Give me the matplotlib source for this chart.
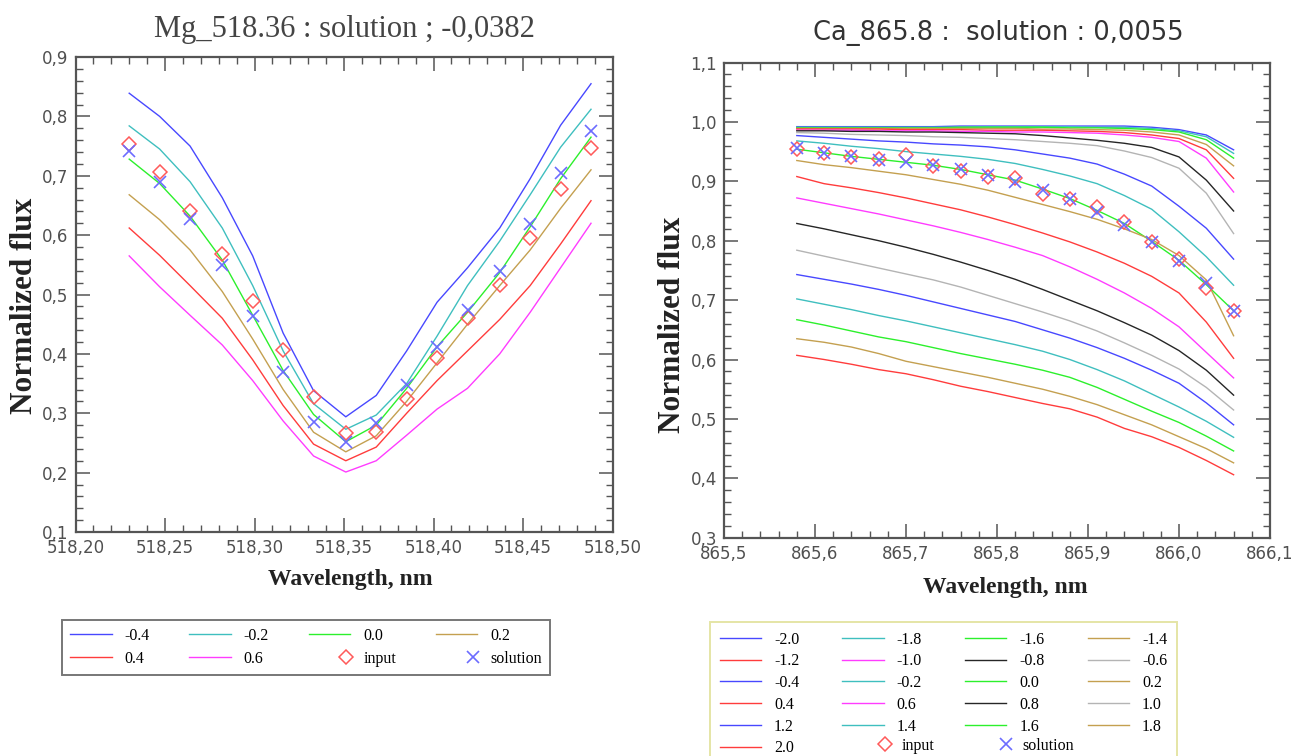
import matplotlib
matplotlib.use('Agg')
from matplotlib import pyplot as plt
from matplotlib.ticker import MultipleLocator, FuncFormatter
from matplotlib.legend_handler import HandlerLine2DCompound

# ---- left panel : Mg 518.36 ----
mg_wl = [518.230, 518.247, 518.264, 518.282, 518.299, 518.316, 518.333, 518.351,
         518.368, 518.385, 518.402, 518.419, 518.437, 518.454, 518.471, 518.488]
mg_levels = ['-0.4', '-0.2', '0.0', '0.2', '0.4', '0.6']
mg_m04 = [0.839, 0.800, 0.750, 0.663, 0.565, 0.435, 0.338, 0.294, 0.330, 0.405, 0.487, 0.545, 0.612, 0.695, 0.785, 0.855]
mg_m02 = [0.784, 0.745, 0.690, 0.612, 0.515, 0.405, 0.316, 0.273, 0.297, 0.350, 0.430, 0.515, 0.590, 0.668, 0.748, 0.812]
mg_p00 = [0.728, 0.687, 0.632, 0.558, 0.465, 0.372, 0.298, 0.252, 0.280, 0.342, 0.412, 0.470, 0.537, 0.614, 0.695, 0.765]
mg_p02 = [0.668, 0.626, 0.575, 0.505, 0.425, 0.340, 0.268, 0.235, 0.262, 0.320, 0.385, 0.450, 0.515, 0.575, 0.645, 0.710]
mg_p04 = [0.612, 0.566, 0.515, 0.460, 0.390, 0.313, 0.248, 0.220, 0.243, 0.300, 0.355, 0.405, 0.458, 0.515, 0.585, 0.658]
mg_p06 = [0.565, 0.513, 0.465, 0.415, 0.355, 0.287, 0.228, 0.201, 0.220, 0.263, 0.307, 0.342, 0.400, 0.470, 0.545, 0.620]
mg_input = [0.754, 0.706, 0.641, 0.568, 0.489, 0.406, 0.328, 0.266, 0.268, 0.324, 0.393, 0.460, 0.516, 0.595, 0.677, 0.746]
mg_solution = [0.742, 0.690, 0.627, 0.550, 0.464, 0.370, 0.286, 0.252, 0.283, 0.348, 0.412, 0.474, 0.539, 0.618, 0.705, 0.776]

# ---- right panel : Ca 865.8 ----
ca_wl = [865.58, 865.61, 865.64, 865.67, 865.70, 865.73, 865.76, 865.79, 865.82,
         865.85, 865.88, 865.91, 865.94, 865.97, 866.00, 866.03, 866.06]
ca_levels = ['-2.0', '-1.8', '-1.6', '-1.4', '-1.2', '-1.0', '-0.8', '-0.6', '-0.4', '-0.2', '0.0',
             '0.2', '0.4', '0.6', '0.8', '1.0', '1.2', '1.4', '1.6', '1.8', '2.0']
ca_m20 = [0.992, 0.992, 0.992, 0.992, 0.992, 0.992, 0.993, 0.993, 0.993, 0.993, 0.993, 0.993, 0.993, 0.991, 0.987, 0.978, 0.953]
ca_m18 = [0.991, 0.991, 0.991, 0.991, 0.991, 0.991, 0.991, 0.992, 0.992, 0.992, 0.992, 0.991, 0.991, 0.989, 0.985, 0.975, 0.947]
ca_m16 = [0.990, 0.990, 0.990, 0.990, 0.990, 0.990, 0.991, 0.991, 0.991, 0.991, 0.990, 0.990, 0.989, 0.987, 0.983, 0.970, 0.939]
ca_m14 = [0.989, 0.989, 0.989, 0.989, 0.989, 0.989, 0.989, 0.989, 0.989, 0.988, 0.988, 0.987, 0.986, 0.983, 0.978, 0.962, 0.926]
ca_m12 = [0.988, 0.988, 0.988, 0.988, 0.987, 0.987, 0.987, 0.986, 0.986, 0.986, 0.985, 0.984, 0.982, 0.978, 0.972, 0.953, 0.905]
ca_m10 = [0.986, 0.986, 0.986, 0.985, 0.985, 0.985, 0.984, 0.984, 0.983, 0.983, 0.982, 0.981, 0.978, 0.974, 0.967, 0.939, 0.882]
ca_m08 = [0.985, 0.985, 0.984, 0.984, 0.983, 0.983, 0.982, 0.981, 0.980, 0.977, 0.973, 0.969, 0.964, 0.957, 0.941, 0.902, 0.850]
ca_m06 = [0.982, 0.981, 0.979, 0.978, 0.977, 0.975, 0.974, 0.972, 0.970, 0.967, 0.964, 0.960, 0.951, 0.940, 0.922, 0.880, 0.812]
ca_m04 = [0.977, 0.974, 0.971, 0.968, 0.966, 0.963, 0.961, 0.958, 0.953, 0.946, 0.939, 0.929, 0.912, 0.892, 0.858, 0.821, 0.769]
ca_m02 = [0.968, 0.964, 0.959, 0.955, 0.950, 0.946, 0.942, 0.937, 0.930, 0.920, 0.909, 0.896, 0.876, 0.853, 0.815, 0.773, 0.725]
ca_p00 = [0.954, 0.948, 0.942, 0.937, 0.932, 0.927, 0.920, 0.911, 0.902, 0.887, 0.871, 0.851, 0.829, 0.799, 0.767, 0.726, 0.682]
ca_p02 = [0.935, 0.928, 0.923, 0.917, 0.911, 0.903, 0.895, 0.885, 0.873, 0.861, 0.849, 0.836, 0.820, 0.802, 0.775, 0.734, 0.640]
ca_p04 = [0.908, 0.896, 0.889, 0.881, 0.872, 0.862, 0.852, 0.840, 0.827, 0.813, 0.798, 0.781, 0.762, 0.740, 0.712, 0.663, 0.602]
ca_p06 = [0.872, 0.863, 0.854, 0.845, 0.835, 0.825, 0.814, 0.802, 0.789, 0.775, 0.756, 0.735, 0.712, 0.686, 0.655, 0.612, 0.569]
ca_p08 = [0.829, 0.820, 0.810, 0.800, 0.789, 0.777, 0.764, 0.750, 0.735, 0.718, 0.700, 0.682, 0.662, 0.641, 0.615, 0.582, 0.540]
ca_p10 = [0.784, 0.774, 0.764, 0.754, 0.744, 0.734, 0.722, 0.708, 0.694, 0.680, 0.665, 0.648, 0.628, 0.607, 0.584, 0.553, 0.515]
ca_p12 = [0.743, 0.735, 0.727, 0.718, 0.708, 0.697, 0.686, 0.675, 0.664, 0.650, 0.636, 0.620, 0.602, 0.582, 0.560, 0.527, 0.490]
ca_p14 = [0.702, 0.693, 0.684, 0.674, 0.665, 0.655, 0.645, 0.635, 0.625, 0.614, 0.600, 0.583, 0.564, 0.542, 0.520, 0.496, 0.469]
ca_p16 = [0.667, 0.658, 0.648, 0.638, 0.630, 0.620, 0.610, 0.601, 0.592, 0.582, 0.570, 0.553, 0.533, 0.513, 0.494, 0.471, 0.446]
ca_p18 = [0.635, 0.629, 0.621, 0.610, 0.597, 0.588, 0.579, 0.570, 0.560, 0.550, 0.538, 0.524, 0.507, 0.490, 0.470, 0.450, 0.426]
ca_p20 = [0.607, 0.600, 0.592, 0.583, 0.576, 0.566, 0.555, 0.546, 0.536, 0.526, 0.517, 0.503, 0.484, 0.470, 0.452, 0.430, 0.406]
ca_input = [0.954, 0.948, 0.941, 0.938, 0.944, 0.925, 0.917, 0.907, 0.905, 0.878, 0.871, 0.857, 0.832, 0.798, 0.769, 0.720, 0.682]
ca_solution = [0.956, 0.948, 0.942, 0.936, 0.932, 0.927, 0.920, 0.911, 0.899, 0.885, 0.870, 0.849, 0.826, 0.798, 0.765, 0.728, 0.682]

# colour cycle used by the plotting program (8 colours, repeated)
CYCLE = ['#4848ff', '#3fbfbf', '#2cf02c', '#c4a050', '#ff3c3c', '#ff3cff', '#262626', '#b4b4b4']
AXC = '#555555'
W, H = 1292, 756


def col_major(items, ncol):
    # matplotlib fills legend columns first, the reference reads row by row
    nrows, nlarge = divmod(len(items), ncol)
    out = []
    for c in range(ncol):
        rows = nrows + 1 if c < nlarge else nrows
        for r in range(rows):
            out.append(items[r * ncol + c])
    return out


class RightMarker(HandlerLine2DCompound):
    # legend marker drawn near the right end of the handle, as in the original
    def get_xdata(self, legend, xdescent, ydescent, width, height, fontsize):
        xd = [-xdescent, -xdescent + width]
        return xd, [-xdescent + width - 0.25 * fontsize]


def style_axes(ax, xmaj, xmin, ymaj, ymin, xfmt, yfmt):
    ax.xaxis.set_major_locator(MultipleLocator(xmaj))
    ax.xaxis.set_minor_locator(MultipleLocator(xmin))
    ax.yaxis.set_major_locator(MultipleLocator(ymaj))
    ax.yaxis.set_minor_locator(MultipleLocator(ymin))
    ax.xaxis.set_major_formatter(FuncFormatter(lambda v, p: xfmt.format(v).replace('.', ',')))
    ax.yaxis.set_major_formatter(FuncFormatter(lambda v, p: yfmt.format(v).replace('.', ',')))
    ax.tick_params(which='both', direction='in', top=True, right=True, color=AXC,
                   labelcolor='#505050', labelsize=12)
    ax.tick_params(which='major', length=10, width=1.1, pad=5)
    ax.tick_params(which='minor', length=5, width=1.0)
    for s in ax.spines.values():
        s.set_color(AXC)
        s.set_linewidth(1.6)


fig = plt.figure(figsize=(W / 100, H / 100), dpi=100)
MK_IN = dict(ls='none', marker='D', ms=7.5, mfc='none', mec='#ff5a5a', mew=1.1)
MK_SOL = dict(ls='none', marker='x', ms=9, mec='#6c6cff', mew=1.2)

# ---------- left ----------
ax1 = fig.add_axes([75.5 / W, 1 - 532 / H, 537 / W, 475 / H])
mg_curves = [mg_m04, mg_m02, mg_p00, mg_p02, mg_p04, mg_p06]
h1 = []
for k, (lab, ys) in enumerate(zip(mg_levels, mg_curves)):
    ln, = ax1.plot(mg_wl, ys, color=CYCLE[k % 8], lw=1.0, label=lab)
    h1.append(ln)
mi, = ax1.plot(mg_wl, mg_input, label='input', **MK_IN)
ms_, = ax1.plot(mg_wl, mg_solution, label='solution', **MK_SOL)
h1 += [mi, ms_]
ax1.set_xlim(518.20, 518.50)
ax1.set_ylim(0.1, 0.9)
style_axes(ax1, 0.05, 0.01, 0.1, 0.02, '{:.2f}', '{:.1f}')

# ---------- right ----------
ax2 = fig.add_axes([724 / W, 1 - 537.7 / H, 546 / W, 475.2 / H])
ca_curves = [ca_m20, ca_m18, ca_m16, ca_m14, ca_m12, ca_m10, ca_m08, ca_m06, ca_m04, ca_m02, ca_p00,
             ca_p02, ca_p04, ca_p06, ca_p08, ca_p10, ca_p12, ca_p14, ca_p16, ca_p18, ca_p20]
h2 = []
for k, (lab, ys) in enumerate(zip(ca_levels, ca_curves)):
    ln, = ax2.plot(ca_wl, ys, color=CYCLE[k % 8], lw=1.0, label=lab)
    h2.append(ln)
ci, = ax2.plot(ca_wl, ca_input, label='input', **MK_IN)
cs, = ax2.plot(ca_wl, ca_solution, label='solution', **MK_SOL)
ax2.set_xlim(865.5, 866.1)
ax2.set_ylim(0.3, 1.1)
style_axes(ax2, 0.1, 0.02, 0.1, 0.02, '{:.1f}', '{:.1f}')

# ---------- texts ----------
fig.text(344 / W, 1 - 30 / H, 'Mg_518.36 : solution ; -0,0382', ha='center', va='center',
         family='Liberation Serif', size=22, color='#444444')
fig.text(998 / W, 1 - 33 / H, 'Ca_865.8 :  solution : 0,0055', ha='center', va='center',
         family='DejaVu Sans', size=18.5, color='#333333')
for x, y in [(350, 580), (1005, 588)]:
    fig.text(x / W, 1 - y / H, 'Wavelength, nm', ha='center', va='center',
             family='Liberation Serif', weight='bold', size=17, color='#222222')
for x, y in [(25, 306), (672, 325)]:
    fig.text(x / W, 1 - y / H, 'Normalized flux', ha='center', va='center', rotation=90,
             family='Liberation Serif', weight='bold', size=22.5, color='#222222')

# ---------- legends ----------
prop = {'family': 'Liberation Serif', 'size': 11.5}
hmap = {mi: RightMarker(), ms_: RightMarker(), ci: RightMarker(), cs: RightMarker()}
common = dict(prop=prop, fancybox=False, handlelength=2.6, handletextpad=0.8,
              numpoints=1, borderaxespad=0, handler_map=hmap)
lab1 = [h.get_label() for h in h1]
leg1 = fig.legend(col_major(h1, 4), col_major(lab1, 4), ncol=4, loc='upper left',
                  bbox_to_anchor=(62 / W, 1 - 620 / H), columnspacing=2.5,
                  labelspacing=0.42, borderpad=0.5, **common)
leg1.get_frame().set_edgecolor(AXC)
leg1.get_frame().set_linewidth(1.4)

# right legend: 21 model lines in a 4-column grid, markers on the last row
lab2 = [h.get_label() for h in h2]
leg2 = fig.legend(col_major(h2, 4), col_major(lab2, 4), ncol=4, loc='upper left',
                  bbox_to_anchor=(710 / W, 1 - 622 / H), columnspacing=2.7,
                  labelspacing=0.36, borderpad=0.6, **common)
leg2.get_frame().set_edgecolor('#dede90')
leg2.get_frame().set_linewidth(1.4)
leg3 = fig.legend([ci, cs], ['input', 'solution'], ncol=2, loc='upper left',
                  bbox_to_anchor=(847 / W, 1 - 738 / H), columnspacing=2.16,
                  borderpad=0, frameon=False, **common)

fig.savefig('out.png', dpi=100)
